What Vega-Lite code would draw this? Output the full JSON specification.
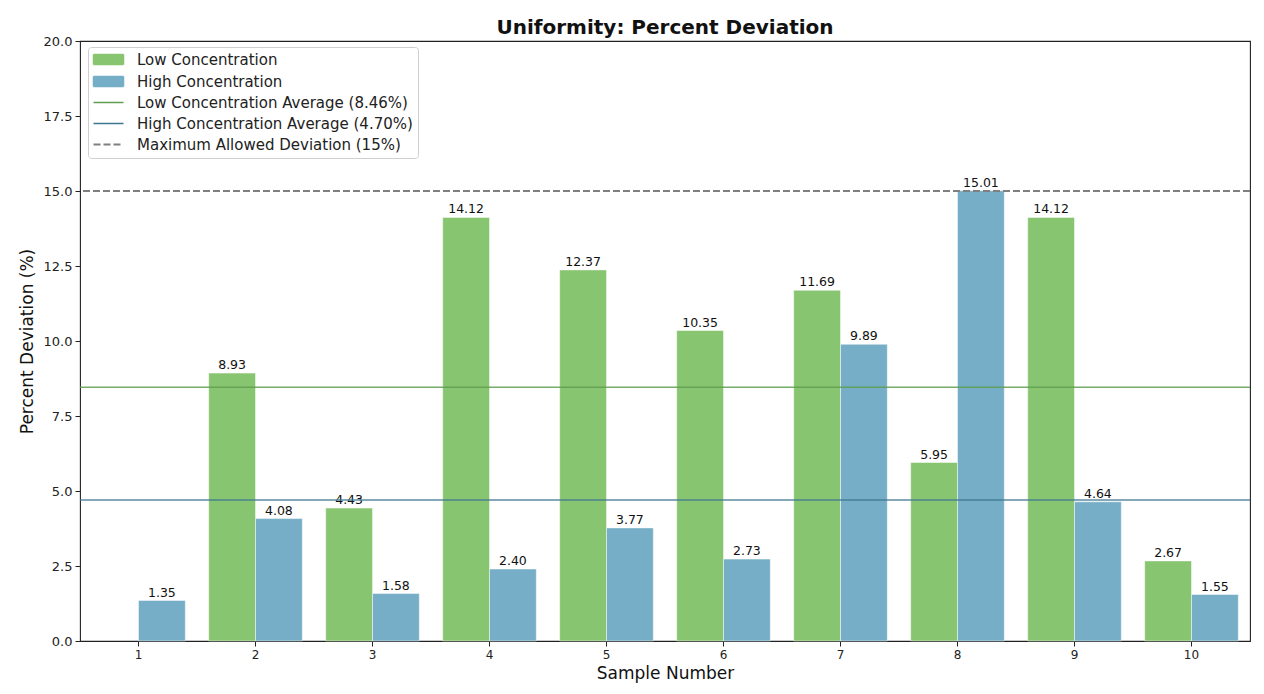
{
  "$schema": "https://vega.github.io/schema/vega-lite/v6.json",
  "autosize": {"type": "none"},
  "padding": {"left": 80, "top": 41, "right": 14, "bottom": 53},
  "width": 1170,
  "height": 600,
  "background": "white",
  "config": {
    "font": "DejaVu Sans",
    "view": {"stroke": "#222", "strokeWidth": 1.1},
    "axis": {"grid": false, "domain": false, "tickColor": "#222", "tickSize": 5, "labelColor": "#222", "titleColor": "#111", "labelFont": "DejaVu Sans", "titleFont": "DejaVu Sans", "titleFontWeight": "normal"}
  },
  "title": {"text": "Uniformity: Percent Deviation", "fontSize": 20, "fontWeight": "bold", "font": "DejaVu Sans", "color": "#111", "anchor": "middle", "offset": -3},
  "datasets": {
    "bars": [
      {"sample": 1, "series": "Low Concentration", "value": 0},
      {"sample": 1, "series": "High Concentration", "value": 1.35},
      {"sample": 2, "series": "Low Concentration", "value": 8.93},
      {"sample": 2, "series": "High Concentration", "value": 4.08},
      {"sample": 3, "series": "Low Concentration", "value": 4.43},
      {"sample": 3, "series": "High Concentration", "value": 1.58},
      {"sample": 4, "series": "Low Concentration", "value": 14.12},
      {"sample": 4, "series": "High Concentration", "value": 2.40},
      {"sample": 5, "series": "Low Concentration", "value": 12.37},
      {"sample": 5, "series": "High Concentration", "value": 3.77},
      {"sample": 6, "series": "Low Concentration", "value": 10.35},
      {"sample": 6, "series": "High Concentration", "value": 2.73},
      {"sample": 7, "series": "Low Concentration", "value": 11.69},
      {"sample": 7, "series": "High Concentration", "value": 9.89},
      {"sample": 8, "series": "Low Concentration", "value": 5.95},
      {"sample": 8, "series": "High Concentration", "value": 15.01},
      {"sample": 9, "series": "Low Concentration", "value": 14.12},
      {"sample": 9, "series": "High Concentration", "value": 4.64},
      {"sample": 10, "series": "Low Concentration", "value": 2.67},
      {"sample": 10, "series": "High Concentration", "value": 1.55}
    ],
    "avgs": [
      {"series": "Low Concentration Average (8.46%)", "value": 8.46},
      {"series": "High Concentration Average (4.70%)", "value": 4.70}
    ],
    "limit": [
      {"series": "Maximum Allowed Deviation (15%)", "value": 15}
    ]
  },
  "encoding": {
    "color": {
      "field": "series",
      "type": "nominal",
      "scale": {
        "domain": ["Low Concentration", "High Concentration", "Low Concentration Average (8.46%)", "High Concentration Average (4.70%)", "Maximum Allowed Deviation (15%)"],
        "range": ["#88c571", "#75aec6", "#5f9e50", "#3f7590", "#808080"]
      },
      "legend": {
        "title": null,
        "orient": "none",
        "legendX": 8,
        "legendY": 6,
        "padding": 5,
        "rowPadding": 5,
        "symbolSize": 400,
        "symbolOffset": 8,
        "labelOffset": 21,
        "labelFontSize": 15,
        "labelFont": "DejaVu Sans",
        "labelColor": "#222",
        "labelLimit": 400,
        "strokeColor": "#cfcfcf",
        "fillColor": "white",
        "cornerRadius": 3,
        "encode": {
          "symbols": {
            "update": {
              "shape": {"signal": "test(/Average|Maximum/, datum.value) ? 'M-1.5,0H1.5' : 'M-1.5,-0.5H1.5V0.5H-1.5Z'"},
              "fill": {"signal": "test(/Average|Maximum/, datum.value) ? 'transparent' : scale('color', datum.value)"},
              "stroke": {"signal": "test(/Average|Maximum/, datum.value) ? scale('color', datum.value) : 'transparent'"},
              "strokeWidth": {"signal": "test(/Maximum/, datum.value) ? 2 : 1.5"},
              "strokeDash": {"signal": "test(/Maximum/, datum.value) ? [7, 3] : [1, 0]"},
              "opacity": {"value": 1}
            }
          }
        }
      }
    }
  },
  "layer": [
    {
      "data": {"name": "bars"},
      "transform": [{"filter": "datum.value > 0"}],
      "mark": {"type": "bar", "stroke": "white", "strokeWidth": 0.8, "strokeOpacity": 0.6},
      "encoding": {
        "x": {"field": "sample", "type": "ordinal", "scale": {"domain": [1, 2, 3, 4, 5, 6, 7, 8, 9, 10], "paddingInner": 0.2, "paddingOuter": 0.1}, "axis": {"title": "Sample Number", "titleFontSize": 17, "labelFontSize": 12, "labelAngle": 0, "labelPadding": 3, "titlePadding": 5}},
        "xOffset": {"field": "series", "type": "nominal", "scale": {"domain": ["Low Concentration", "High Concentration"], "paddingInner": 0, "paddingOuter": 0}},
        "y": {"field": "value", "type": "quantitative", "scale": {"domain": [0, 20], "nice": false}, "axis": {"title": "Percent Deviation (%)", "titleFontSize": 17, "labelFontSize": 13, "values": [0, 2.5, 5, 7.5, 10, 12.5, 15, 17.5, 20], "format": ".1f", "labelPadding": 3, "titlePadding": 7}}
      }
    },
    {
      "data": {"name": "bars"},
      "transform": [{"filter": "datum.value > 0"}],
      "mark": {"type": "text", "baseline": "bottom", "dy": -1, "fontSize": 12.5, "font": "DejaVu Sans", "color": "#111"},
      "encoding": {
        "x": {"field": "sample", "type": "ordinal"},
        "xOffset": {"field": "series", "type": "nominal"},
        "y": {"field": "value", "type": "quantitative"},
        "text": {"field": "value", "type": "quantitative", "format": ".2f"},
        "color": {"value": "#111"}
      }
    },
    {
      "data": {"name": "avgs"},
      "mark": {"type": "rule", "strokeWidth": 1.5, "opacity": 0.85},
      "encoding": {
        "y": {"field": "value", "type": "quantitative"}
      }
    },
    {
      "data": {"name": "limit"},
      "mark": {"type": "rule", "strokeWidth": 2, "strokeDash": [7, 3]},
      "encoding": {
        "y": {"field": "value", "type": "quantitative"}
      }
    }
  ]
}
